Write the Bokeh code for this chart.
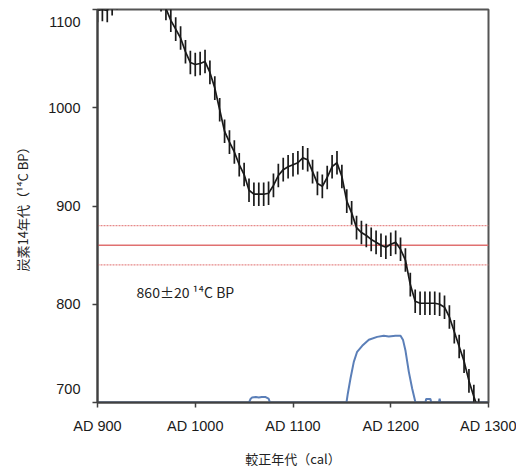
import numpy as np
from bokeh.plotting import figure
from bokeh.models import Range1d, Label, Span, FixedTicker
from bokeh.embed import file_html
from bokeh.resources import INLINE

# ---- data -------------------------------------------------------------
cal_years = list(range(900, 1295, 5))
c14_age = [1099, 1100, 1099, 1106, 1112, 1118, 1123, 1127, 1130, 1131,
           1129, 1125, 1119, 1110, 1101, 1089, 1080, 1071, 1057, 1046,
           1044, 1045, 1047, 1036, 1020, 998, 976, 965, 955, 942,
           932, 916, 912, 912, 912, 913, 921, 931, 937, 940,
           942, 944, 949, 947, 935, 923, 920, 929, 940, 944,
           930, 905, 893, 878, 873, 870, 866, 863, 860, 858,
           861, 863, 856, 845, 820, 803, 801, 801, 801, 801,
           800, 797, 787, 772, 757, 742, 722, 706, 692]
c14_err = [12] * 79

prob_years = [900, 1055, 1056.5, 1058, 1062, 1065, 1068, 1072, 1075, 1076.5,
              1154.7, 1156.1, 1158.8, 1162.2, 1165.6, 1170.8, 1177.6, 1186.1,
              1192.9, 1198, 1204.9, 1210, 1212.6, 1215.1, 1218.5, 1221.9,
              1225.3, 1235.5, 1236.2, 1238, 1240.6, 1241.4, 1249.3, 1250,
              1250.7, 1300]
prob_height = [0, 0, 3.5, 5, 5.5, 5, 5.5, 5.5, 4, 0,
               0, 9.2, 24.4, 41.4, 51.6, 57.7, 63.8, 66.8,
               67.9, 67.2, 67.9, 67.9, 63.5, 52.6, 31.2, 14.2,
               0, 0, 3.5, 3.5, 3.5, 0, 0, 4,
               0, 0]

sample_age = 860
sample_err = 20

x_ticks = [900, 1000, 1100, 1200, 1300]
x_tick_labels = ["AD 900", "AD 1000", "AD 1100", "AD 1200", "AD 1300"]
y_ticks = [700, 800, 900, 1000, 1100]
y_tick_labels = ["700", "800", "900", "1000", "1100"]

x_title = "較正年代（cal）"
y_title = "炭素14年代（¹⁴C BP）"

# ---- figure -----------------------------------------------------------
FONT = "Liberation Sans"
p = figure(width=516, height=471, output_backend="svg", toolbar_location=None,
           x_range=Range1d(900, 1300), y_range=Range1d(700, 1100),
           min_border_left=97, min_border_right=28, min_border_top=9,
           min_border_bottom=69)
p.frame_width = 391
p.frame_height = 393
p.background_fill_color = "white"
p.border_fill_color = "white"
p.outline_line_color = "#555555"
p.outline_line_width = 2
p.xgrid.visible = False
p.ygrid.visible = False

# sample lines
p.add_layout(Span(location=sample_age, dimension="width", line_color="#e07070",
                  line_width=1.5, level="underlay"))
for loc in (sample_age - sample_err, sample_age + sample_err):
    p.add_layout(Span(location=loc, dimension="width", line_color="#e68a8a",
                      line_width=1.2, line_dash="2 1", level="underlay"))

# probability distribution
p.line(prob_years, [700 + h for h in prob_height], line_color="#5b7fb8",
       line_width=2)

# calibration curve with error bars
ages = np.array(c14_age, dtype=float)
errs = np.array(c14_err, dtype=float)
p.segment(x0=cal_years, y0=ages - errs, x1=cal_years, y1=ages + errs,
          line_color="#1a1a1a", line_width=1.7)
p.line(cal_years, c14_age, line_color="#1a1a1a", line_width=1.7)

p.add_layout(Label(x=940, y=812, text=f"{sample_age}±{sample_err} ¹⁴C BP",
                   text_font="Noto Sans CJK JP", text_font_size="14px",
                   text_color="#222222",
                   text_baseline="middle", text_align="left"))

# axes
for ax in (p.xaxis[0], p.yaxis[0]):
    ax.axis_line_color = "#404040"
    ax.axis_line_width = 2
    ax.major_tick_line_color = "#404040"
    ax.major_tick_line_width = 1.5
    ax.major_tick_in = 0
    ax.major_tick_out = 5
    ax.minor_tick_line_color = None
    ax.major_label_text_font = FONT
    ax.major_label_text_font_size = "14.5px"
    ax.major_label_text_color = "#1a1a1a"
    ax.axis_label_text_font = "Noto Sans CJK JP"
    ax.axis_label_text_font_size = "13px"
    ax.axis_label_text_font_style = "normal"
    ax.axis_label_text_color = "#222222"

p.xaxis.ticker = FixedTicker(ticks=x_ticks)
p.xaxis.major_label_overrides = dict(zip(x_ticks, x_tick_labels))
p.xaxis.major_label_standoff = 10
p.xaxis.axis_label = x_title
p.xaxis.axis_label_standoff = 12

# end labels of the y axis sit inward, as in the original
ov = dict(zip(y_ticks, y_tick_labels))
ov[y_ticks[0]] = y_tick_labels[0] + "\n\n"
ov[y_ticks[-1]] = "\n" + y_tick_labels[-1]
p.yaxis.ticker = FixedTicker(ticks=y_ticks)
p.yaxis.major_label_overrides = ov
p.yaxis.major_label_text_line_height = 0.86
p.yaxis.major_label_standoff = 12
p.yaxis.axis_label = y_title
p.yaxis.axis_label_standoff = 13

open("out.html", "w").write(file_html(p, INLINE))
